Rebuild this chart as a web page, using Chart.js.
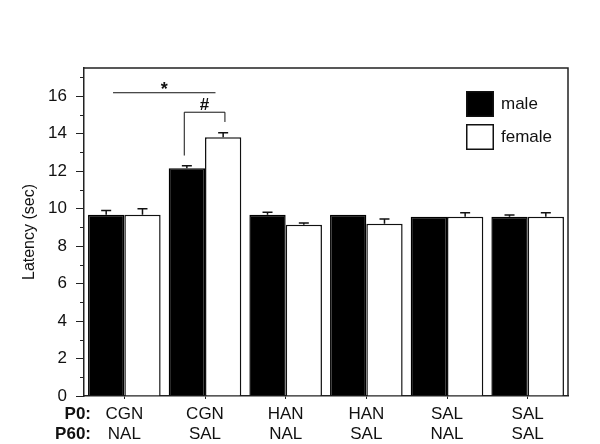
<!DOCTYPE html>
<html><head><meta charset="utf-8">
<script src="https://cdn.jsdelivr.net/npm/chart.js@4.4.0/dist/chart.umd.min.js"></script>
<style>html,body{margin:0;padding:0;background:#fff}#wrap{width:600px;height:444px}</style>
</head><body><div id="wrap"><canvas id="c" width="600" height="444"></canvas></div>
<script>
// ---- data ----
const p0Labels = ['CGN', 'CGN', 'HAN', 'HAN', 'SAL', 'SAL'];
const p60Labels = ['NAL', 'SAL', 'NAL', 'SAL', 'NAL', 'SAL'];
const seriesNames = ['male', 'female'];
const maleMeans = [9.67, 12.15, 9.67, 9.67, 9.57, 9.57];
const maleSEM = [0.23, 0.13, 0.13, 0, 0, 0.09];
const femaleMeans = [9.67, 13.8, 9.14, 9.19, 9.57, 9.57];
const femaleSEM = [0.32, 0.25, 0.09, 0.25, 0.21, 0.21];
const rowTitles = ['P0:', 'P60:'];
const yAxisTitle = 'Latency (sec)';

// significance marks (in category index / value units)
const sigLines = [{ text: '*', from: -0.14, to: 1.13, y: 16.18 }];
const sigBrackets = [{ text: '#', from: 0.743, to: 1.247, y: 15.14, leftEnd: 12.83, rightEnd: 14.62 }];

const FONT = "'Liberation Sans', Arial, Helvetica, sans-serif";
const INK = '#111';
const FS = 17;
Chart.defaults.font.family = FONT;
Chart.defaults.color = INK;

const labels = p0Labels.map((p, i) => [p, p60Labels[i]]);

const extras = {
  id: 'extras',
  afterDatasetsDraw(chart) {
    const ctx = chart.ctx, y = chart.scales.y, x = chart.scales.x;
    const sems = [maleSEM, femaleSEM];
    const means = [maleMeans, femaleMeans];
    ctx.save();
    ctx.strokeStyle = INK; ctx.lineWidth = 1.5;
    chart.data.datasets.forEach((ds, di) => {
      const meta = chart.getDatasetMeta(di);
      meta.data.forEach((bar, j) => {
        if (!sems[di][j]) return;
        const yTop = y.getPixelForValue(means[di][j] + sems[di][j]);
        const yBase = y.getPixelForValue(means[di][j]);
        ctx.beginPath();
        ctx.moveTo(bar.x, yBase); ctx.lineTo(bar.x, yTop);
        ctx.moveTo(bar.x - 5, yTop); ctx.lineTo(bar.x + 5, yTop);
        ctx.stroke();
      });
    });
    // significance annotations
    const px = v => {
      const a = x.getPixelForValue(0), b = x.getPixelForValue(1);
      return a + v * (b - a);
    };
    ctx.lineWidth = 1;
    ctx.fillStyle = INK;
    ctx.textAlign = 'center';
    ctx.textBaseline = 'middle';
    sigLines.forEach(s => {
      const yy = y.getPixelForValue(s.y);
      ctx.beginPath(); ctx.moveTo(px(s.from), yy); ctx.lineTo(px(s.to), yy); ctx.stroke();
      ctx.font = 'bold 18px ' + FONT;
      ctx.fillText(s.text, (px(s.from) + px(s.to)) / 2, yy - 3);
    });
    sigBrackets.forEach(s => {
      const yy = y.getPixelForValue(s.y);
      ctx.beginPath();
      ctx.moveTo(px(s.from), y.getPixelForValue(s.leftEnd));
      ctx.lineTo(px(s.from), yy);
      ctx.lineTo(px(s.to), yy);
      ctx.lineTo(px(s.to), y.getPixelForValue(s.rightEnd));
      ctx.stroke();
      ctx.font = 'bold 17px ' + FONT;
      ctx.fillText(s.text, (px(s.from) + px(s.to)) / 2, yy - 7);
    });
    ctx.restore();
  },
  afterDraw(chart) {
    const ctx = chart.ctx, a = chart.chartArea, y = chart.scales.y, x = chart.scales.x;
    ctx.save();
    // frame top and right
    ctx.strokeStyle = '#222'; ctx.lineWidth = 1.5;
    ctx.beginPath();
    ctx.moveTo(a.left, a.top); ctx.lineTo(a.right, a.top); ctx.lineTo(a.right, a.bottom);
    ctx.stroke();
    // minor y ticks
    ctx.lineWidth = 1;
    for (let v = 1; v < y.max; v += 2) {
      const yy = Math.round(y.getPixelForValue(v)) + 0.5;
      ctx.beginPath(); ctx.moveTo(a.left - 4, yy); ctx.lineTo(a.left, yy); ctx.stroke();
    }
    // legend inside plot
    const bx = a.right - 102, by = a.top + 23, bw = 28, bh = 26, gap = 7;
    chart.data.datasets.forEach((ds, i) => {
      const top = by + i * (bh + gap);
      ctx.fillStyle = ds.backgroundColor;
      ctx.fillRect(bx, top, bw, bh);
      ctx.strokeStyle = INK; ctx.lineWidth = 1.5;
      ctx.strokeRect(bx + 0.75, top + 0.75, bw - 1.5, bh - 1.5);
      ctx.fillStyle = INK;
      ctx.font = FS + 'px ' + FONT;
      ctx.textAlign = 'left'; ctx.textBaseline = 'middle';
      ctx.fillText(ds.label, bx + bw + 7, top + bh / 2);
    });
    // row titles for the two label lines
    const xt = chart.options.scales.x;
    const lh = 20;
    const y0 = x.top + xt.grid.tickLength + xt.ticks.padding;
    ctx.font = 'bold ' + FS + 'px ' + FONT;
    ctx.fillStyle = INK;
    ctx.textAlign = 'right'; ctx.textBaseline = 'middle';
    rowTitles.forEach((t, k) => ctx.fillText(t, a.left + 7, y0 + lh * (k + 0.5)));
    ctx.restore();
  }
};

new Chart(document.getElementById('c'), {
  type: 'bar',
  data: {
    labels: labels,
    datasets: [
      { label: seriesNames[0], data: maleMeans, backgroundColor: '#000', borderColor: '#000', borderWidth: 1.5 },
      { label: seriesNames[1], data: femaleMeans, backgroundColor: '#fff', borderColor: INK, borderWidth: 1.5 }
    ]
  },
  options: {
    responsive: false,
    animation: false,
    devicePixelRatio: 1,
    categoryPercentage: 0.9,
    barPercentage: 1.0,
    layout: { padding: { top: 68, right: 32, left: 0, bottom: 0 } },
    plugins: { legend: { display: false }, tooltip: { enabled: false } },
    scales: {
      x: {
        offset: true,
        grid: { display: true, offset: false, drawOnChartArea: false, tickLength: 3, color: '#222', lineWidth: 1 },
        border: { display: true, color: '#222', width: 1.5 },
        ticks: { font: { size: FS, lineHeight: 20 / FS }, color: INK, padding: 5, maxRotation: 0, autoSkip: false },
        afterFit(s) { s.height = 48; }
      },
      y: {
        min: 0, max: 17.5,
        ticks: { stepSize: 2, includeBounds: false, font: { size: FS }, color: INK, padding: 9 },
        grid: { display: true, drawOnChartArea: false, tickLength: 8, color: '#222', lineWidth: 1 },
        border: { display: true, color: '#222', width: 1.5 },
        title: { display: true, text: yAxisTitle, font: { size: 16, lineHeight: 1.2 }, color: INK, padding: { top: 20, bottom: 0 } },
        afterFit(s) { s.width = 84; }
      }
    }
  },
  plugins: [extras]
});
</script>
</body></html>
